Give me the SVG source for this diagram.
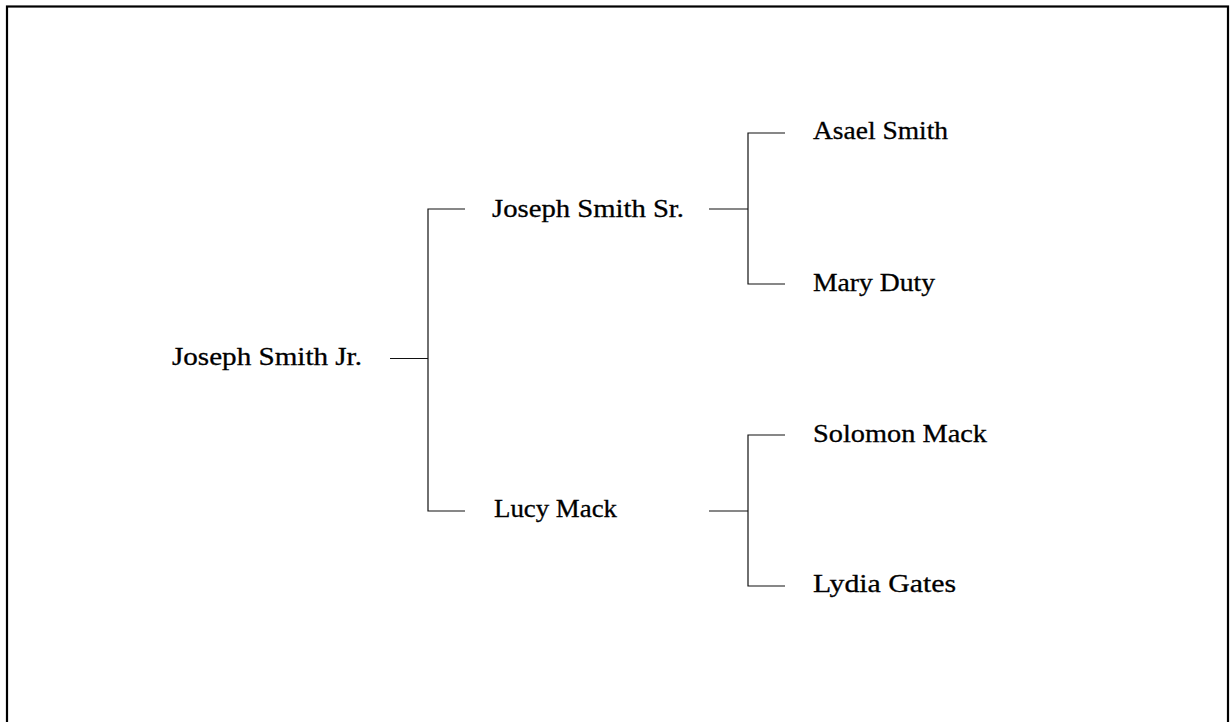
<svg xmlns="http://www.w3.org/2000/svg" width="1230" height="722" viewBox="0 0 1230 722">
<style>
.lbl{font-family:"Liberation Serif","Times New Roman",serif;font-size:25px;fill:#000;stroke:#000;stroke-width:0.3}
.ln{stroke:#111;stroke-width:1.2;fill:none}
</style>
<rect x="0" y="0" width="1230" height="722" fill="#fff"/>
<rect x="7" y="6.5" width="1221" height="730" fill="none" stroke="#000" stroke-width="2.2"/>
<g id="connectors">
<path class="ln" d="M390 358.5H428M465 209H428V511H465"/>
<path class="ln" d="M709 209H748M785 133H748V284H785"/>
<path class="ln" d="M709 511H748M785 435H748V586H785"/>
</g>
<g id="n-jsjr"><text class="lbl" x="172" y="365" textLength="190" lengthAdjust="spacingAndGlyphs">Joseph Smith Jr.</text></g>
<g id="n-jssr"><text class="lbl" x="492" y="216.5" textLength="192" lengthAdjust="spacingAndGlyphs">Joseph Smith Sr.</text></g>
<g id="n-lucy"><text class="lbl" x="494" y="517" textLength="123" lengthAdjust="spacingAndGlyphs">Lucy Mack</text></g>
<g id="n-asael"><text class="lbl" x="813" y="139" textLength="135" lengthAdjust="spacingAndGlyphs">Asael Smith</text></g>
<g id="n-mary"><text class="lbl" x="813" y="290.5" textLength="122" lengthAdjust="spacingAndGlyphs">Mary Duty</text></g>
<g id="n-solomon"><text class="lbl" x="813" y="441.5" textLength="174" lengthAdjust="spacingAndGlyphs">Solomon Mack</text></g>
<g id="n-lydia"><text class="lbl" x="813" y="592" textLength="143" lengthAdjust="spacingAndGlyphs">Lydia Gates</text></g>
</svg>
